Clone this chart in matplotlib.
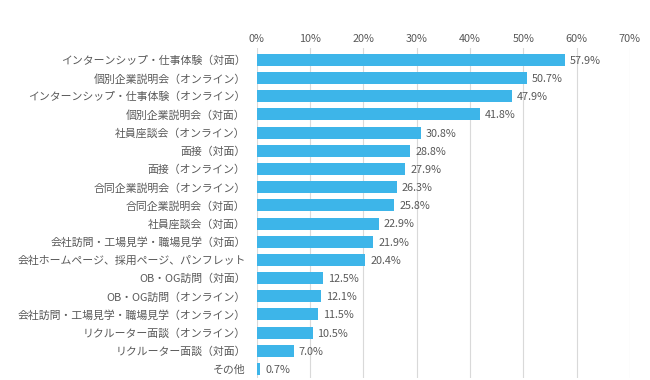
import matplotlib.pyplot as plt
from matplotlib.ticker import FuncFormatter

plt.rcParams['font.family'] = ['Noto Sans CJK JP', 'DejaVu Sans']

# items, in order from top to bottom
items = [
    'インターンシップ・仕事体験（対面）',
    '個別企業説明会（オンライン）',
    'インターンシップ・仕事体験（オンライン）',
    '個別企業説明会（対面）',
    '社員座談会（オンライン）',
    '面接（対面）',
    '面接（オンライン）',
    '合同企業説明会（オンライン）',
    '合同企業説明会（対面）',
    '社員座談会（対面）',
    '会社訪問・工場見学・職場見学（対面）',
    '会社ホームページ、採用ページ、パンフレット',
    'OB・OG訪問（対面）',
    'OB・OG訪問（オンライン）',
    '会社訪問・工場見学・職場見学（オンライン）',
    'リクルーター面談（オンライン）',
    'リクルーター面談（対面）',
    'その他',
]
values = [57.9, 50.7, 47.9, 41.8, 30.8, 28.8, 27.9, 26.3, 25.8, 22.9,
          21.9, 20.4, 12.5, 12.1, 11.5, 10.5, 7.0, 0.7]
ticks = [0, 10, 20, 30, 40, 50, 60, 70]

text_col = '#595959'
bar_col = '#3DB5E9'

fig = plt.figure(figsize=(6.5, 3.8), dpi=100)
ax = fig.add_axes([0.395, 0.005, 0.574, 0.869])

pos = range(len(items))
ax.barh(pos, values, height=0.66, color=bar_col, zorder=3)
for p, v in zip(pos, values):
    ax.text(v + 0.9, p + 0.05, f'{v:.1f}%', va='center', ha='left',
            fontsize=7.8, color=text_col, zorder=4)

ax.set_xlim(0, 70)
ax.set_ylim(17.5, -0.66)
ax.set_xticks(ticks)
ax.xaxis.set_major_formatter(FuncFormatter(lambda x, _: f'{x:.0f}%'))
ax.xaxis.tick_top()
ax.set_yticks(list(pos))
ax.set_yticklabels(items)
ax.tick_params(axis='both', length=0, labelsize=7.8, labelcolor=text_col)
ax.tick_params(axis='x', pad=3)
ax.tick_params(axis='y', pad=8)
for lab in ax.get_yticklabels():
    lab.set_fontsize(7.85)
ax.grid(axis='x', color='#D9D9D9', linewidth=0.8, zorder=0)
for s in ax.spines.values():
    s.set_visible(False)

fig.savefig('out.png', dpi=100)
